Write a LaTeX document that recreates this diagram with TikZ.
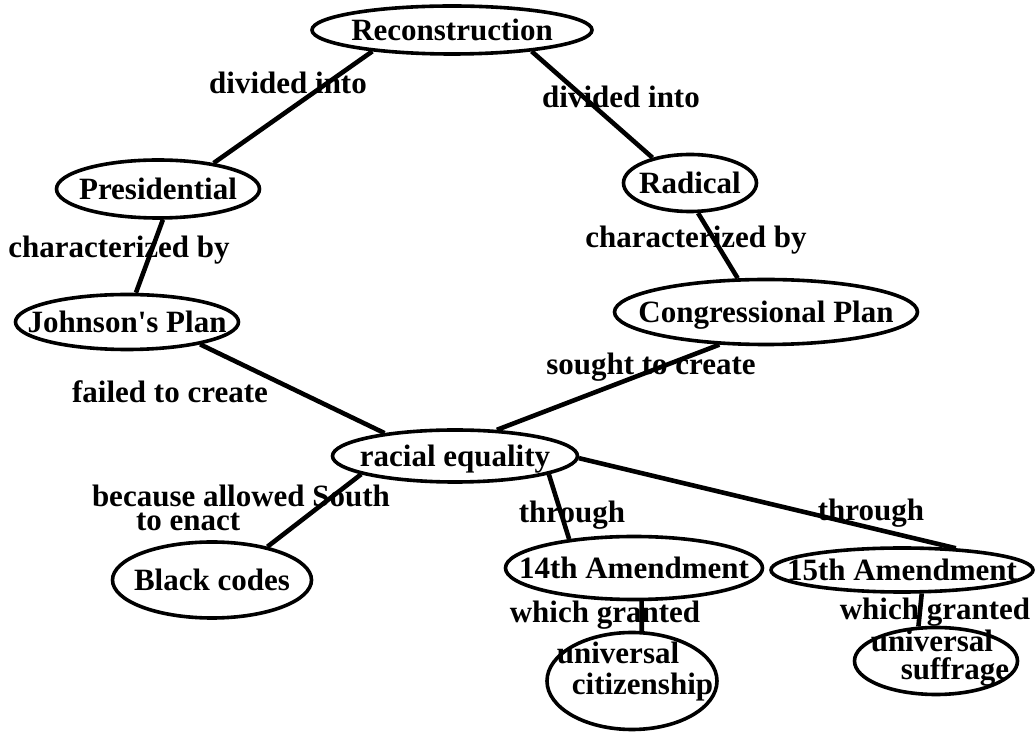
\documentclass[tikz,border=0pt]{standalone}
\usepackage{fontspec}
\setmainfont{Liberation Serif}[Ligatures=TeXOff, BoldFont={Liberation Serif Bold}]
\usetikzlibrary{shapes.geometric}

% text sits on the ellipse without resizing it
\newcommand{\ctxt}[1]{\makebox[0pt]{\raisebox{-.33em}[0pt][0pt]{#1}}}

\begin{document}
\begin{tikzpicture}[x=0.5pt, y=-0.5pt,
  concept/.style={ellipse, draw, line width=1.8pt, inner sep=0pt, font=\fontsize{15.5}{15.5}\selectfont\bfseries},
  lab/.style={inner sep=0pt, font=\fontsize{15.5}{15.5}\selectfont\bfseries},
  conn/.style={line width=2.3pt}
]
  \useasboundingbox (0,0) rectangle (1035,732);

  % Top concept
  \node[concept, minimum width=140pt, minimum height=24pt] at (452, 30) (recon) {\ctxt{Reconstruction}};

  % Two branches
  \node[concept, minimum width=101.5pt, minimum height=29pt] at (158, 189) (pres) {\ctxt{Presidential}};
  \node[concept, minimum width=66.5pt, minimum height=28.5pt] at (690, 183) (radical) {\ctxt{Radical}};
  \node[concept, minimum width=111.5pt, minimum height=27.5pt] at (127, 322) (johnson) {\ctxt{Johnson's Plan}};
  \node[concept, minimum width=151.5pt, minimum height=32.5pt] at (766, 312) (congress) {\ctxt{Congressional Plan}};

  % Middle
  \node[concept, minimum width=122.5pt, minimum height=26pt] at (455, 456) (racial) {\ctxt{racial equality}};

  % Bottom row
  \node[concept, minimum width=99.5pt, minimum height=38pt] at (212, 580) (black) {\ctxt{Black codes}};
  \node[concept, minimum width=128.5pt, minimum height=31.5pt] at (634, 568) (am14) {\ctxt{14th Amendment}};
  \node[concept, minimum width=131pt, minimum height=22pt] at (902, 570) (am15) {\ctxt{15th Amendment}};
  \node[concept, minimum width=85pt, minimum height=48.5pt,
    label={[lab, align=left, xshift=1.5pt, yshift=4.5pt]center:{universal\\\hspace*{7.5pt}citizenship}}] at (632, 681) (citiz) {};
  \node[concept, minimum width=81.5pt, minimum height=33.5pt,
    label={[lab, align=left, font=\fontsize{15.5}{14}\selectfont\bfseries, xshift=2pt, yshift=1.2pt]center:{universal\\\hspace*{15pt}suffrage}}] at (936, 661) (suffr) {};

  % Connectors
  \draw[conn] (recon.195) -- (pres.25);
  \draw[conn] (recon.345) -- (radical.146);
  \draw[conn] (pres.279) -- (johnson.73);
  \draw[conn] (radical.285) -- (congress.130);
  \draw[conn] (johnson.343) -- (racial.162);
  \draw[conn] (congress.215) -- (racial.32);
  \draw[conn] (racial.191) -- (black.31);
  \draw[conn] (racial.349) -- (am14.156);
  \draw[conn] (racial.359) -- (am15.22);
  \draw[conn] (am14.283) -- (citiz.79);
  \draw[conn] (am15.310) -- (suffr.117);

  % Link labels
  \node[lab] at (288, 83) (divl) {divided into};
  \node[lab] at (621, 97) (divr) {divided into};
  \node[lab] at (119, 250) (charl) {characterized by};
  \node[lab] at (696, 240) (charr) {characterized by};
  \node[lab] at (170, 392) (failed) {failed to create};
  \node[lab] at (651, 367) (sought) {sought to create};
  \node[lab, align=left, font=\fontsize{15.5}{12}\selectfont\bfseries] at (241, 508) (because)
    {because allowed South\\\hspace*{22pt}to enact};
  \node[lab] at (572, 515) (thr14) {through};
  \node[lab] at (871, 513) (thr15) {through};
  \node[lab] at (605, 615) (gr14) {which granted};
  \node[lab] at (935, 612) (gr15) {which granted};

\end{tikzpicture}
\end{document}
